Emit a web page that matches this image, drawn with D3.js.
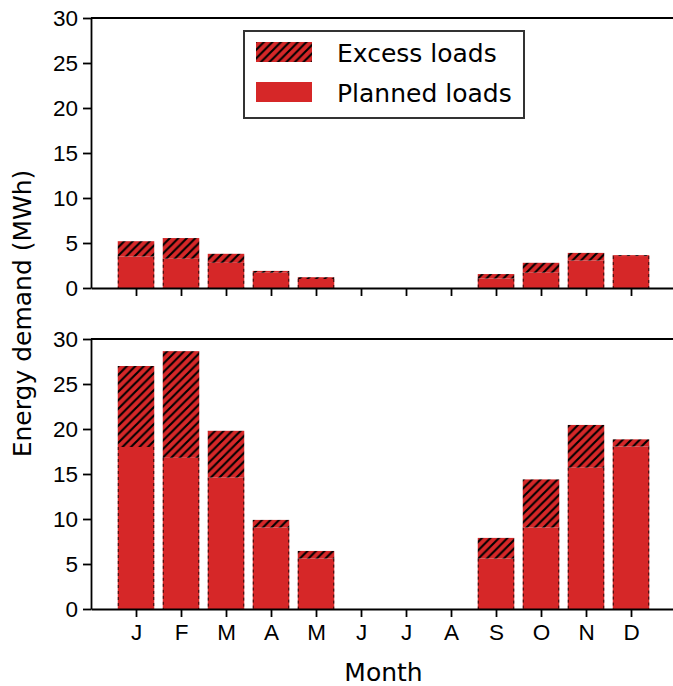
<!DOCTYPE html>
<html>
<head>
<meta charset="utf-8">
<script src="https://cdn.jsdelivr.net/npm/d3@7"></script>
<style>
  html, body { margin: 0; padding: 0; background: #fff; }
  svg { display: block; font-family: "DejaVu Sans", sans-serif; }
</style>
</head>
<body>
<svg id="chart" width="673" height="686"></svg>
<script>
const months = ["J","F","M","A","M","J","J","A","S","O","N","D"];
const yTicks = [0, 5, 10, 15, 20, 25, 30];

// Upper panel (MWh)
const topPlanned = [3.5, 3.25, 2.8, 1.7, 1.0, 0, 0, 0, 1.05, 1.7, 3.05, 3.55];
const topExcess  = [1.7, 2.3, 1.0, 0.2, 0.2, 0, 0, 0, 0.5, 1.1, 0.85, 0.1];

// Lower panel (MWh)
const botPlanned = [18.0, 16.8, 14.6, 9.05, 5.6, 0, 0, 0, 5.6, 9.05, 15.7, 18.05];
const botExcess  = [9.0, 11.85, 5.2, 0.85, 0.85, 0, 0, 0, 2.3, 5.35, 4.75, 0.8];

const RED = "#d62728";
const svg = d3.select("#chart");

// hatch pattern
const defs = svg.append("defs");
const hs = 8.5;
const pat = defs.append("pattern")
  .attr("id", "hatch").attr("patternUnits", "userSpaceOnUse")
  .attr("width", hs).attr("height", hs);
pat.append("rect").attr("width", hs).attr("height", hs).attr("fill", RED);
pat.append("path")
  .attr("d", `M0,${hs} L${hs},0 M${-hs/2},${hs/2} L${hs/2},${-hs/2} M${hs/2},${hs*1.5} L${hs*1.5},${hs/2}`)
  .attr("stroke", "#000").attr("stroke-width", 2.1).attr("stroke-linecap", "square");

const x = d3.scaleLinear().domain([-1, 12]).range([91, 676]);
const barW = 36.5;

function panel(yTop, yBottom, planned, excess, showXLabels) {
  const y = d3.scaleLinear().domain([0, 30]).range([yBottom, yTop]);
  const g = svg.append("g");
  const data = months.map((m, i) => ({ i, p: planned[i], e: excess[i] }));

  // planned bars
  g.selectAll("rect.planned").data(data.filter(d => d.p > 0)).join("rect")
    .attr("class", "planned")
    .attr("x", d => x(d.i) - barW / 2)
    .attr("width", barW)
    .attr("y", d => y(d.p))
    .attr("height", d => y(0) - y(d.p))
    .attr("fill", RED);
  // dashed edges on planned bars
  data.filter(d => d.p > 0).forEach(d => {
    [x(d.i) - barW / 2 + 0.5, x(d.i) + barW / 2 - 0.5].forEach(xx => {
      g.append("line")
        .attr("x1", xx).attr("x2", xx)
        .attr("y1", y(d.p)).attr("y2", y(0))
        .attr("stroke", "#000").attr("stroke-width", 0.8)
        .attr("stroke-dasharray", "3,3");
    });
  });
  // excess bars (hatched)
  g.selectAll("rect.excess").data(data.filter(d => d.e > 0)).join("rect")
    .attr("class", "excess")
    .attr("x", d => x(d.i) - barW / 2)
    .attr("width", barW)
    .attr("y", d => y(d.p + d.e))
    .attr("height", d => y(d.p) - y(d.p + d.e))
    .attr("fill", "url(#hatch)");

  // y axis
  const yAxis = d3.axisLeft(y).tickValues(yTicks).tickSize(8).tickPadding(5).tickSizeOuter(0);
  const ya = svg.append("g").attr("transform", `translate(91,0)`).call(yAxis);
  ya.select(".domain").attr("stroke-width", 1.8);
  ya.selectAll(".tick line").attr("stroke-width", 1.8);
  ya.selectAll(".tick text").attr("font-size", 22.5).attr("font-family", null).attr("fill", "#000");

  // x axis (bottom)
  const xAxis = d3.axisBottom(x).tickValues(d3.range(12)).tickSize(8).tickPadding(7).tickSizeOuter(0)
    .tickFormat(i => showXLabels ? months[i] : "");
  const xa = svg.append("g").attr("transform", `translate(0,${yBottom})`).call(xAxis);
  xa.select(".domain").attr("stroke-width", 1.8);
  xa.selectAll(".tick line").attr("stroke-width", 1.8);
  xa.selectAll(".tick text").attr("font-size", 22.5).attr("font-family", null).attr("fill", "#000");

  // top spine
  svg.append("line").attr("x1", 91).attr("x2", 676).attr("y1", yTop).attr("y2", yTop)
    .attr("stroke", "#000").attr("stroke-width", 1.8);
}

panel(18, 288, topPlanned, topExcess, false);
panel(339, 609, botPlanned, botExcess, true);

// axis labels
svg.append("text").attr("x", 383.5).attr("y", 681).attr("text-anchor", "middle")
  .attr("font-size", 25).text("Month");
svg.append("text").attr("transform", "translate(31,313.5) rotate(-90)")
  .attr("text-anchor", "middle").attr("font-size", 25).text("Energy demand (MWh)");

// legend
const lg = svg.append("g");
lg.append("rect").attr("x", 244).attr("y", 31).attr("width", 280).attr("height", 87)
  .attr("fill", "#fff").attr("stroke", "#333").attr("stroke-width", 2);
lg.append("rect").attr("x", 256).attr("y", 42).attr("width", 56).attr("height", 20).attr("fill", "url(#hatch)");
lg.append("rect").attr("x", 256).attr("y", 82).attr("width", 56).attr("height", 20).attr("fill", RED);
lg.append("text").attr("x", 337).attr("y", 62).attr("font-size", 25).text("Excess loads");
lg.append("text").attr("x", 337).attr("y", 102).attr("font-size", 25).text("Planned loads");
</script>
</body>
</html>
